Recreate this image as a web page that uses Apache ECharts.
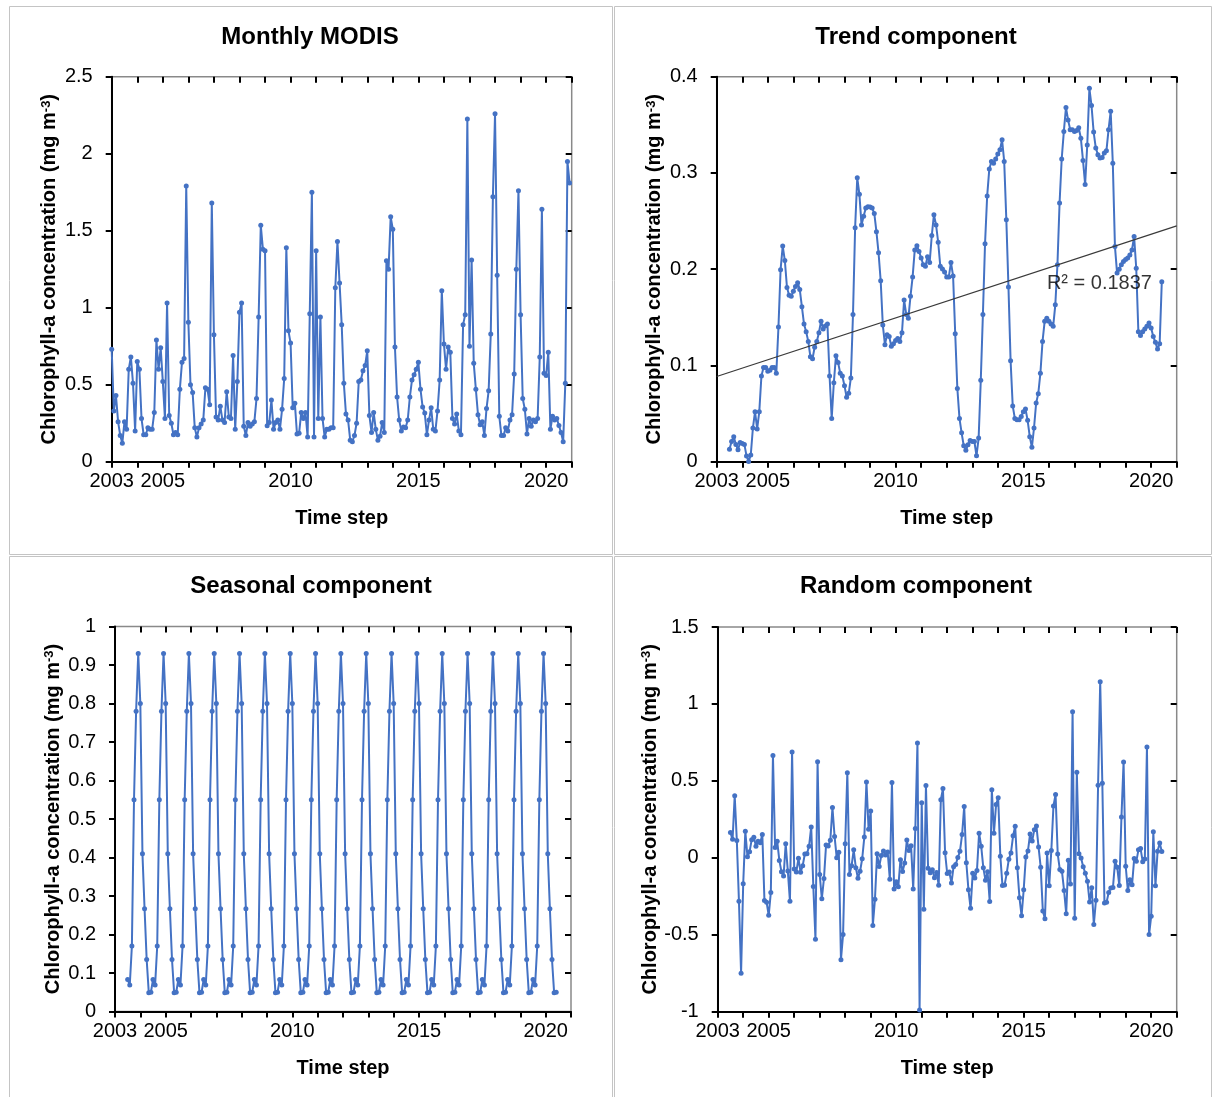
<!DOCTYPE html>
<html><head><meta charset="utf-8">
<script src="https://cdn.jsdelivr.net/npm/echarts@6/dist/echarts.min.js"></script>
<style>html,body{margin:0;padding:0;background:#fff}#c{width:1213px;height:1097px}</style>
</head><body><div id="c"></div>
<script>
// ---------------- DATA ----------------
const xTickYears = [2003, 2005, 2010, 2015, 2020];
const firstYear = 2003;          // monthly series start: Jan 2003
const componentOffset = 6;       // decomposition components start: Jul 2003

const modis = [
 0.73,0.33,0.43,0.26,0.17,0.12,0.26,0.21,0.60,0.68,0.51,0.20,
 0.65,0.60,0.28,0.175,0.175,0.22,0.21,0.21,0.32,0.79,0.60,0.74,
 0.52,0.28,1.03,0.30,0.25,0.175,0.19,0.175,0.47,0.645,0.67,1.79,
 0.905,0.50,0.45,0.22,0.16,0.22,0.245,0.27,0.48,0.47,0.37,1.68,
 0.825,0.29,0.27,0.36,0.27,0.255,0.455,0.29,0.28,0.69,0.21,0.52,
 0.97,1.03,0.23,0.17,0.255,0.23,0.245,0.26,0.41,0.94,1.535,1.38,
 1.37,0.234,0.255,0.40,0.21,0.255,0.27,0.21,0.34,0.54,1.39,0.85,
 0.77,0.35,0.38,0.18,0.185,0.32,0.28,0.32,0.16,0.96,1.75,0.16,
 1.37,0.28,0.94,0.28,0.16,0.21,0.21,0.22,0.22,1.13,1.43,1.16,
 0.89,0.51,0.31,0.27,0.14,0.13,0.17,0.25,0.52,0.53,0.59,0.625,
 0.72,0.30,0.19,0.32,0.21,0.14,0.165,0.255,0.19,1.305,1.25,1.59,
 1.51,0.745,0.42,0.27,0.20,0.225,0.22,0.27,0.42,0.53,0.565,0.60,
 0.645,0.47,0.355,0.316,0.175,0.27,0.35,0.21,0.20,0.33,0.53,1.11,
 0.765,0.60,0.745,0.71,0.28,0.245,0.31,0.20,0.175,0.89,0.955,2.225,
 0.75,1.31,0.64,0.47,0.305,0.24,0.26,0.17,0.345,0.46,0.83,1.72,
 2.26,1.21,0.295,0.17,0.17,0.22,0.20,0.27,0.305,0.57,1.25,1.76,
 0.955,0.41,0.34,0.18,0.28,0.23,0.27,0.26,0.28,0.68,1.64,0.575,
 0.56,0.71,0.21,0.295,0.27,0.28,0.235,0.19,0.13,0.51,1.95,1.81
];

const trend = [
 0.013,0.021,0.026,0.018,0.0125,0.020,
 0.019,0.018,0.006,0.0003,0.007,0.035,0.052,0.034,0.052,0.089,0.098,0.098,
 0.094,0.095,0.098,0.098,0.092,0.14,0.1995,0.224,0.209,0.181,0.173,0.172,
 0.177,0.182,0.186,0.179,0.161,0.143,0.135,0.125,0.109,0.107,0.119,0.125,
 0.134,0.146,0.138,0.141,0.143,0.089,0.045,0.082,0.110,0.103,0.092,0.089,
 0.079,0.067,0.071,0.087,0.153,0.243,0.295,0.278,0.246,0.255,0.2635,0.265,
 0.2646,0.2635,0.258,0.239,0.217,0.188,0.142,0.1216,0.132,0.130,0.120,0.1226,
 0.126,0.128,0.125,0.134,0.168,0.153,0.149,0.172,0.192,0.220,0.2244,0.2185,
 0.2116,0.2047,0.203,0.213,0.207,0.235,0.2566,0.246,0.228,0.203,0.2002,0.197,
 0.192,0.192,0.207,0.193,0.133,0.076,0.045,0.030,0.0166,0.0118,0.0177,0.022,
 0.021,0.021,0.0062,0.0246,0.0845,0.153,0.2265,0.276,0.304,0.312,0.310,0.3145,
 0.3196,0.324,0.3345,0.312,0.2514,0.1815,0.105,0.058,0.045,0.0436,0.0436,0.047,
 0.052,0.0547,0.043,0.026,0.0149,0.035,0.061,0.0707,0.092,0.125,0.1458,0.149,
 0.146,0.143,0.1406,0.163,0.2047,0.2687,0.3145,0.343,0.368,0.355,0.345,0.345,
 0.343,0.344,0.347,0.336,0.313,0.288,0.329,0.388,0.37,0.3425,0.326,0.319,
 0.3155,0.316,0.3207,0.323,0.345,0.364,0.310,0.2237,0.196,0.200,0.2047,0.208,
 0.21,0.2116,0.2147,0.22,0.234,0.201,0.135,0.131,0.135,0.138,0.1406,0.144,
 0.139,0.130,0.124,0.117,0.1226,0.187
];

const seasonal = [
 0.083,0.069,0.17,0.55,0.78,0.93,0.80,0.41,0.267,0.135,0.049,0.05,
 0.083,0.069,0.17,0.55,0.78,0.93,0.80,0.41,0.267,0.135,0.049,0.05,
 0.083,0.069,0.17,0.55,0.78,0.93,0.80,0.41,0.267,0.135,0.049,0.05,
 0.083,0.069,0.17,0.55,0.78,0.93,0.80,0.41,0.267,0.135,0.049,0.05,
 0.083,0.069,0.17,0.55,0.78,0.93,0.80,0.41,0.267,0.135,0.049,0.05,
 0.083,0.069,0.17,0.55,0.78,0.93,0.80,0.41,0.267,0.135,0.049,0.05,
 0.083,0.069,0.17,0.55,0.78,0.93,0.80,0.41,0.267,0.135,0.049,0.05,
 0.083,0.069,0.17,0.55,0.78,0.93,0.80,0.41,0.267,0.135,0.049,0.05,
 0.083,0.069,0.17,0.55,0.78,0.93,0.80,0.41,0.267,0.135,0.049,0.05,
 0.083,0.069,0.17,0.55,0.78,0.93,0.80,0.41,0.267,0.135,0.049,0.05,
 0.083,0.069,0.17,0.55,0.78,0.93,0.80,0.41,0.267,0.135,0.049,0.05,
 0.083,0.069,0.17,0.55,0.78,0.93,0.80,0.41,0.267,0.135,0.049,0.05,
 0.083,0.069,0.17,0.55,0.78,0.93,0.80,0.41,0.267,0.135,0.049,0.05,
 0.083,0.069,0.17,0.55,0.78,0.93,0.80,0.41,0.267,0.135,0.049,0.05,
 0.083,0.069,0.17,0.55,0.78,0.93,0.80,0.41,0.267,0.135,0.049,0.05,
 0.083,0.069,0.17,0.55,0.78,0.93,0.80,0.41,0.267,0.135,0.049,0.05,
 0.083,0.069,0.17,0.55,0.78,0.93,0.80,0.41,0.267,0.135,0.049,0.05
];

const random = [
 0.164,0.12,0.404,0.112,-0.283,-0.75,
 -0.169,0.172,0.007,0.04,0.118,0.133,0.075,0.107,0.098,0.151,-0.278,-0.288,
 -0.374,-0.225,0.665,0.067,0.108,-0.017,-0.09,-0.118,0.091,-0.086,-0.283,0.688,
 -0.072,-0.092,-0.003,-0.094,-0.051,0.025,0.027,0.076,0.201,-0.187,-0.529,0.625,
 -0.109,-0.266,-0.135,0.084,0.077,0.114,0.327,0.139,0.0,0.037,-0.662,-0.499,
 0.091,0.553,-0.108,-0.052,0.052,-0.065,-0.133,-0.087,-0.006,0.135,0.492,0.185,
 0.305,-0.44,-0.27,0.026,-0.057,0.015,0.045,0.019,0.038,-0.14,0.49,-0.203,
 -0.156,-0.188,-0.012,-0.089,-0.033,0.115,0.048,0.079,-0.202,0.19,0.746,-0.989,
 0.358,-0.335,0.47,-0.068,-0.097,-0.077,-0.13,-0.095,-0.178,0.377,0.45,0.033,
 -0.102,-0.092,-0.164,-0.058,-0.043,0.002,0.042,0.151,0.333,-0.032,-0.208,-0.327,
 -0.101,-0.131,-0.083,0.16,0.076,-0.065,-0.145,-0.09,-0.284,0.443,0.16,0.346,
 0.39,0.011,-0.18,-0.177,-0.101,-0.009,0.032,0.143,0.205,-0.064,-0.259,-0.377,
 -0.207,0.005,0.045,0.155,0.11,0.183,0.206,0.07,-0.062,-0.345,-0.396,0.031,
 -0.181,0.047,0.337,0.412,0.025,-0.076,-0.088,-0.212,-0.363,-0.015,-0.17,0.95,
 -0.393,0.556,0.026,-0.001,-0.058,-0.1,-0.152,-0.287,-0.195,-0.433,-0.276,0.471,
 1.145,0.484,-0.293,-0.288,-0.225,-0.196,-0.193,-0.023,-0.061,-0.18,0.265,0.622,
 -0.055,-0.212,-0.142,-0.175,-0.004,-0.023,0.052,0.06,-0.025,-0.008,0.72,-0.499,
 -0.379,0.17,-0.181,0.043,0.097,0.041
];

const trendLine = [[2003, 0.0885], [2021, 0.245]];
const r2Text = 'R² = 0.1837';
const r2Anchor = [2015.92, 0.185];

const titles = ['Monthly MODIS', 'Trend component', 'Seasonal component', 'Random component'];
const xName = 'Time step';
const yName = 'Chlorophyll-a concentration (mg m{sup|-3})';

// ---------------- CHART ----------------
const FONT = '"Liberation Sans", Arial, sans-serif';
const BLUE = '#4472C4';

function toPairs(arr, offset) {
  return arr.map((v, i) => [firstYear + (i + offset) / 12, v]);
}

const grids = [
  {left: 111.7, top: 76.7, width: 460, height: 385},
  {left: 716.7, top: 76.7, width: 460, height: 385},
  {left: 115,   top: 626.5, width: 456, height: 385},
  {left: 717.7, top: 627, width: 459, height: 384.7}
].map(g => Object.assign(g, {show: true, borderColor: '#898989', borderWidth: 1.5, backgroundColor: 'transparent'}));

const yRanges = [[0, 2.5, 0.5], [0, 0.4, 0.1], [0, 1, 0.1], [-1, 1.5, 0.5]];

const xAxis = [], yAxis = [];
grids.forEach((g, gi) => {
  const xBase = {type: 'value', gridIndex: gi, min: 2003, max: 2021, interval: 1, splitLine: {show: false}};
  xAxis.push(Object.assign({}, xBase, {
    axisLine: {show: true, onZero: false, lineStyle: {color: '#000', width: 2}},
    axisTick: {show: true, length: 6, lineStyle: {color: '#000', width: 2}},
    axisLabel: {show: true, margin: 10, fontSize: 20, color: '#000', fontFamily: FONT,
      formatter: v => xTickYears.indexOf(Math.round(v)) >= 0 ? String(Math.round(v)) : ''},
    name: xName, nameLocation: 'middle', nameGap: 47,
    nameTextStyle: {fontSize: 20, fontWeight: 'bold', color: '#000', fontFamily: FONT}
  }));
  xAxis.push(Object.assign({}, xBase, {
    axisLine: {show: false, onZero: false}, axisLabel: {show: false},
    axisTick: {show: true, inside: true, length: 6, lineStyle: {color: '#000', width: 2}}
  }));
  const [mn, mx, iv] = yRanges[gi];
  const yBase = {type: 'value', gridIndex: gi, min: mn, max: mx, interval: iv, splitLine: {show: false}};
  yAxis.push(Object.assign({}, yBase, {
    axisLine: {show: true, onZero: false, lineStyle: {color: '#000', width: 2}},
    axisTick: {show: true, length: 6, lineStyle: {color: '#000', width: 2}},
    axisLabel: {show: true, margin: 19, fontSize: 20, color: '#000', fontFamily: FONT},
    name: yName, nameLocation: 'middle', nameGap: 52,
    nameTextStyle: {fontSize: 20, fontWeight: 'bold', color: '#000', fontFamily: FONT,
      rich: {sup: {fontSize: 13, fontWeight: 'bold', color: '#000', fontFamily: FONT, verticalAlign: 'top'}}}
  }));
  yAxis.push(Object.assign({}, yBase, {
    axisLine: {show: false, onZero: false}, axisLabel: {show: false},
    axisTick: {show: true, inside: true, length: 6, lineStyle: {color: '#000', width: 2}}
  }));
});

function lineSeries(gi, data) {
  return {
    type: 'line', xAxisIndex: 2 * gi, yAxisIndex: 2 * gi, data: data,
    symbol: 'circle', symbolSize: 5, showSymbol: true, clip: false,
    lineStyle: {color: BLUE, width: 2}, itemStyle: {color: BLUE},
    animation: false, z: 2
  };
}

const series = [
  lineSeries(0, toPairs(modis, 0)),
  lineSeries(1, toPairs(trend, componentOffset)),
  lineSeries(2, toPairs(seasonal, componentOffset)),
  lineSeries(3, toPairs(random, componentOffset)),
  {
    type: 'line', xAxisIndex: 2, yAxisIndex: 2, data: trendLine, symbol: 'none',
    lineStyle: {color: '#3a3a3a', width: 1.2}, animation: false, z: 4
  },
  {
    type: 'scatter', xAxisIndex: 2, yAxisIndex: 2, data: [r2Anchor], symbolSize: 0.01,
    itemStyle: {color: 'transparent'}, animation: false, z: 5,
    label: {show: true, position: 'right', distance: 0, formatter: r2Text,
      fontSize: 20, color: '#000', textBorderWidth: 0, fontFamily: FONT}
  }
];

const titlePos = [[310, 37], [916, 37], [311, 586], [916, 586]];
const graphic = [
  {type: 'rect', shape: {x: 9.5, y: 6.5, width: 603, height: 548}, style: {fill: 'none', stroke: '#c4c4c4', lineWidth: 1}, z: 0},
  {type: 'rect', shape: {x: 614.5, y: 6.5, width: 597, height: 548}, style: {fill: 'none', stroke: '#c4c4c4', lineWidth: 1}, z: 0},
  {type: 'rect', shape: {x: 9.5, y: 556.5, width: 603, height: 560}, style: {fill: 'none', stroke: '#c4c4c4', lineWidth: 1}, z: 0},
  {type: 'rect', shape: {x: 614.5, y: 556.5, width: 597, height: 560}, style: {fill: 'none', stroke: '#c4c4c4', lineWidth: 1}, z: 0}
].concat(titles.map((t, i) => ({
  type: 'text', x: titlePos[i][0], y: titlePos[i][1], z: 10,
  style: {text: t, fontSize: 24, fontWeight: 'bold', fontFamily: FONT, fill: '#000', align: 'center', verticalAlign: 'middle'}
})));

const chart = echarts.init(document.getElementById('c'), null, {renderer: 'canvas'});
chart.setOption({
  animation: false,
  backgroundColor: '#fff',
  grid: grids,
  xAxis: xAxis,
  yAxis: yAxis,
  series: series,
  graphic: graphic
});
</script>
</body></html>
